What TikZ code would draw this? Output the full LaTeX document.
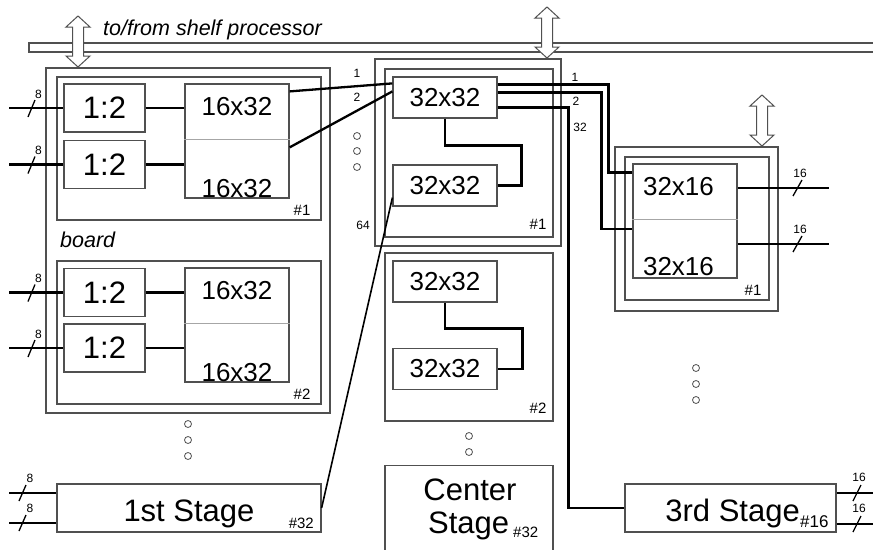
\documentclass[tikz,border=0pt]{standalone}
\usepackage{fontspec}
\setmainfont{Liberation Sans}
\usetikzlibrary{calc,positioning}
\definecolor{frame}{HTML}{505050}

\begin{document}
\begin{tikzpicture}[x=1pt, y=-1pt,
  blk/.style={rectangle, draw=frame, line width=1.2pt, fill=white, inner sep=0pt},
  brd/.style={rectangle, draw=frame, line width=1.2pt, inner sep=0pt},
  conn/.style={line width=2.3pt, black},
  divline/.style={line width=0.4pt, black!35},
  slash/.style={line width=1.3pt, black},
  ring/.style={circle, draw=frame, line width=0.8pt, minimum size=7pt, inner sep=0pt},
  bigtxt/.style={font=\fontsize{31}{31}\selectfont, inner sep=0pt},
  midtxt/.style={font=\fontsize{26}{26}\selectfont, inner sep=0pt},
  tagtxt/.style={font=\fontsize{15}{15}\selectfont, inner sep=0pt},
  numtxt/.style={font=\fontsize{12}{12}\selectfont, inner sep=0pt},
  notetxt/.style={font=\fontsize{21.5}{21.5}\selectfont\itshape, inner sep=0pt}
]
  \useasboundingbox (0,0) rectangle (873,549);

  % shelf processor bus
  \draw[draw=frame, line width=1.3pt] (885,43) -- (29,43) -- (29,52) -- (885,52);
  \node[notetxt, anchor=base west] (shelf) at (103,35) {to/from shelf processor};
  \foreach \ax/\ay in {78/16, 547/7, 762/95}
    \draw[line width=1pt, draw=frame, fill=white] (\ax,\ay) -- ++(12,11) -- ++(-6.5,0) -- ++(0,29) -- ++(6.5,0) -- ++(-12,11)
      -- ++(-12,-11) -- ++(6.5,0) -- ++(0,-29) -- ++(-6.5,0) -- cycle;

  % first stage boards
  \node[brd, minimum width=284pt, minimum height=345pt] (lbrd) at (188,240.5) {};
  \node[brd, minimum width=264pt, minimum height=143pt] (lb1) at (189,148.5) {};
  \node[brd, minimum width=264pt, minimum height=143pt] (lb2) at (189,332.5) {};
  \node[notetxt, anchor=base west] (board) at (60,247) {board};
  \node[tagtxt] (lb1n) at (302,210) {\#1};
  \node[tagtxt] (lb2n) at (302,394) {\#2};

  % center stage boards
  \node[brd, minimum width=186pt, minimum height=187pt] (cb1o) at (468,152.5) {};
  \node[brd, minimum width=168pt, minimum height=168pt] (cb1) at (469,153) {};
  \node[brd, minimum width=168pt, minimum height=168pt] (cb2) at (469,337) {};
  \node[tagtxt] (cb1n) at (538,224) {\#1};
  \node[tagtxt] (cb2n) at (538,408) {\#2};

  % third stage board
  \node[brd, minimum width=163pt, minimum height=164pt] (rb1o) at (696.5,229) {};
  \node[brd, minimum width=144pt, minimum height=143pt] (rb1) at (697,228.5) {};
  \node[tagtxt] (rb1n) at (753,290) {\#1};

  % splitters and switches
  \node[blk, bigtxt, minimum width=81pt, minimum height=48pt] (sp1) at (104.5,108) {1:2};
  \node[blk, bigtxt, minimum width=81pt, minimum height=48pt] (sp2) at (104.5,164.5) {1:2};
  \node[blk, bigtxt, minimum width=81pt, minimum height=48pt] (sp3) at (104.5,292.5) {1:2};
  \node[blk, bigtxt, minimum width=81pt, minimum height=48pt] (sp4) at (104.5,348) {1:2};

  \node[blk, minimum width=104pt, minimum height=114pt] (sw1) at (237,141) {};
  \node[blk, minimum width=104pt, minimum height=114pt] (sw2) at (237,325) {};
  \node[blk, minimum width=104pt, minimum height=114pt] (tx1) at (685,221) {};
  \foreach \b in {sw1, sw2, tx1}
    \draw[divline] ($(\b.north west)+(0,56)$) -- ($(\b.north east)+(0,56)$);
  \node[midtxt, anchor=base] (sw1a) at (237,115) {16x32};
  \node[midtxt, anchor=base] (sw1b) at (237,197) {16x32};
  \node[midtxt, anchor=base] (sw2a) at (237,299) {16x32};
  \node[midtxt, anchor=base] (sw2b) at (237,381) {16x32};
  \node[midtxt, anchor=base] (tx1a) at (678.5,195) {32x16};
  \node[midtxt, anchor=base] (tx1b) at (678.5,275) {32x16};

  \node[blk, midtxt, minimum width=104pt, minimum height=41pt] (cx1) at (445,97.5) {32x32};
  \node[blk, midtxt, minimum width=104pt, minimum height=41pt] (cx2) at (445,185.5) {32x32};
  \node[blk, midtxt, minimum width=104pt, minimum height=41pt] (cx3) at (445,281.5) {32x32};
  \node[blk, midtxt, minimum width=104pt, minimum height=41pt] (cx4) at (445,369) {32x32};

  % collapsed stages
  \node[blk, minimum width=264pt, minimum height=48pt] (st1) at (189,508) {};
  \node[bigtxt, anchor=base] (st1t) at (189,521) {1st Stage};
  \node[tagtxt, anchor=base east] (st1n) at (314,528) {\#32};
  \node[blk, minimum width=168pt, minimum height=100pt, anchor=north] (cst) at (469,465) {};
  \node[bigtxt, anchor=base] (cstt) at (470,500) {Center};
  \node[bigtxt, anchor=base west] (csts) at (428,533) {Stage};
  \node[tagtxt, anchor=base west] (cstn) at (513,537) {\#32};
  \node[blk, minimum width=211pt, minimum height=48pt] (st3) at (730.5,508) {};
  \node[bigtxt, anchor=base east] (st3t) at (800,521) {3rd Stage};
  \node[font=\fontsize{17}{17}\selectfont, inner sep=0pt, anchor=base west] (st3n) at (800,527) {\#16};

  % inputs and outputs
  \foreach \n/\y in {sp1/108, sp2/164.5, sp3/292.5, sp4/348} {
    \coordinate (i\n) at (9,\y);
    \draw[conn] (i\n) -- (\n.west);
    \draw[slash] (28,\y+9) -- (35,\y-8);
    \node[numtxt] (w\n) at (38.5,\y-14) {8};
  }
  \foreach \n/\m in {sp1/sw1, sp2/sw1, sp3/sw2, sp4/sw2}
    \draw[conn] (\n.east) -- (\n.east -| \m.west);
  \foreach \y [count=\i] in {493,523} {
    \coordinate (is\i) at (9,\y);
    \draw[conn] (is\i) -- (is\i -| st1.west);
    \draw[slash] (19,\y+8) -- (26,\y-8);
    \node[numtxt] (ws\i) at (30,\y-15) {8};
  }
  \foreach \y [count=\i] in {188,244} {
    \coordinate (o\i) at (829,\y);
    \draw[conn] (o\i -| tx1.east) -- (o\i);
    \draw[slash] (793,\y+8) -- (802,\y-8);
    \node[numtxt] (wo\i) at (800,\y-15) {16};
  }
  \foreach \y [count=\i] in {493,524} {
    \coordinate (os\i) at (873,\y);
    \draw[conn] (os\i -| st3.east) -- (os\i);
    \draw[slash] (853,\y+8) -- (861,\y-8);
    \node[numtxt] (wos\i) at (859,\y-16) {16};
  }

  % links inside the center boards
  \draw[conn] (cx1.south) -- ++(0,27) -| ($(cx2.east)+(24,0)$) -- (cx2.east);
  \draw[conn] (cx3.south) -- ++(0,26) -| ($(cx4.east)+(25,0)$) -- (cx4.east);

  % links between the stages
  \draw[conn] ($(sw1.north east)+(0,8)$) -- ($(cx1.north west)+(0,7)$);
  \draw[conn] ($(sw1.north east)+(0,64)$) -- ($(cx1.north west)+(0,15)$);
  \draw[conn, line width=1.6pt] (st1.east) -- ($(cx2.south west)+(0,-9)$);
  \draw[conn] ($(cx1.north east)+(0,8)$) -| ($(tx1.north west)+(-24,9)$) -- ($(tx1.north west)+(0,9)$);
  \draw[conn] ($(cx1.north east)+(0,16)$) -| ($(tx1.west)+(-31,8)$) -- ($(tx1.west)+(0,8)$);
  \draw[conn] ($(cx1.north east)+(0,31)$) -| ($(st3.west)+(-56,0)$) -- (st3.west);

  \node[numtxt] (in1) at (357,73) {1};
  \node[numtxt] (in2) at (357,97) {2};
  \node[numtxt] (in64) at (363,225) {64};
  \node[numtxt] (out1) at (575,77) {1};
  \node[numtxt] (out2) at (576,101) {2};
  \node[numtxt] (out32) at (580,127) {32};

  % ellipsis dots
  \foreach \x/\y [count=\i] in {357/136, 357/151, 357/167, 188/424, 188/440, 188/456, 469/436, 469/452, 696/368, 696/384, 696/400}
    \node[ring] (dt\i) at (\x,\y) {};
\end{tikzpicture}
\end{document}
